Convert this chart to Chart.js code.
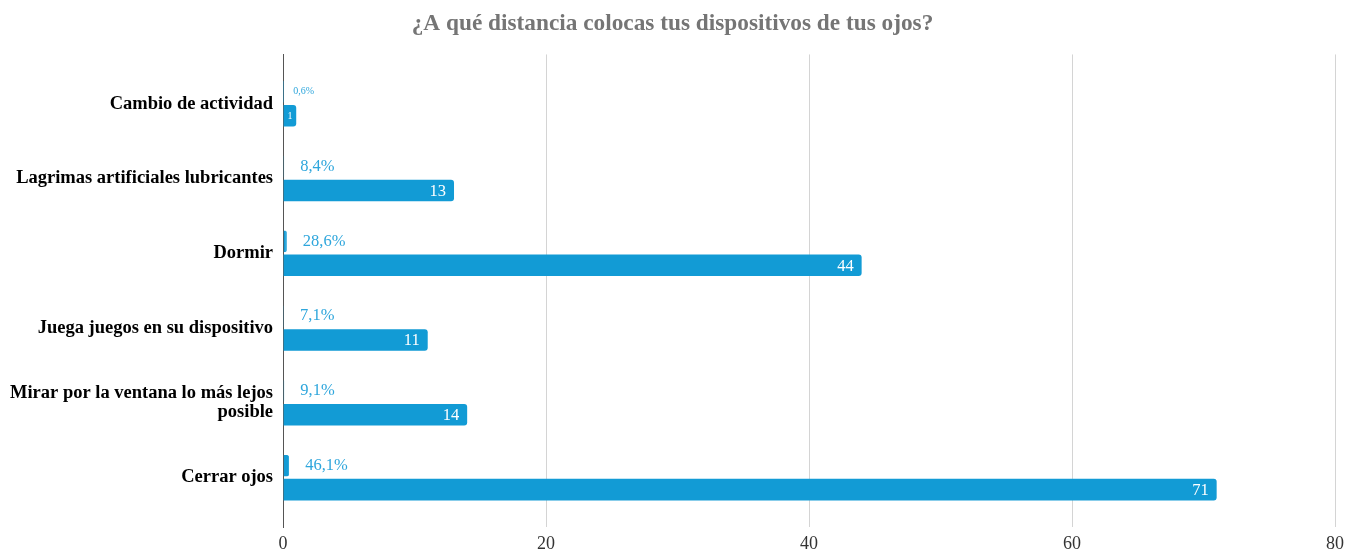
<!DOCTYPE html>
<html>
<head>
<meta charset="utf-8">
<script src="https://cdn.jsdelivr.net/npm/chart.js@4"></script>
<style>
  body { margin: 0; background: #fff; }
  #wrap { width: 1345px; height: 551px; }
</style>
</head>
<body>
<div id="wrap"><canvas id="distChart"></canvas></div>
<script>
// data
const categories = [
  "Cambio de actividad",
  "Lagrimas artificiales lubricantes",
  "Dormir",
  "Juega juegos en su dispositivo",
  ["Mirar por la ventana lo más lejos", "posible"],
  "Cerrar ojos"
];
const percentValues = [0.6, 8.4, 28.6, 7.1, 9.1, 46.1];
const countValues = [1, 13, 44, 11, 14, 71];
const xTicks = [0, 20, 40, 60, 80];

const barBlue = "#129bd5";
const labelBlue = "#2ea6dc";
const serif = "'Liberation Serif', 'Times New Roman', serif";

// value labels: percentages beside the thin bars, counts inside the thick bars
const barLabels = {
  id: "barLabels",
  afterDatasetsDraw(chart) {
    const ctx = chart.ctx;
    ctx.save();
    ctx.textBaseline = "middle";
    chart.getDatasetMeta(0).data.forEach((bar, i) => {
      const small = percentValues[i] < 1;
      ctx.font = (small ? "10px " : "16.5px ") + serif;
      ctx.fillStyle = labelBlue;
      ctx.textAlign = "left";
      const txt = percentValues[i].toFixed(1).replace(".", ",") + "%";
      ctx.fillText(txt, bar.x + (small ? 10 : 16), bar.y);
    });
    chart.getDatasetMeta(1).data.forEach((bar, i) => {
      const small = countValues[i] < 2;
      ctx.font = (small ? "10px " : "16.5px ") + serif;
      ctx.fillStyle = "#fff";
      if (small) {
        ctx.textAlign = "center";
        ctx.fillText(String(countValues[i]), (bar.x + bar.base) / 2, bar.y + 1);
      } else {
        ctx.textAlign = "right";
        ctx.fillText(String(countValues[i]), bar.x - 8, bar.y + 1);
      }
    });
    ctx.restore();
  }
};

new Chart(document.getElementById("distChart"), {
  type: "bar",
  data: {
    labels: categories,
    datasets: [
      {
        label: "Porcentaje",
        data: percentValues.map(v => v / 100),
        backgroundColor: barBlue,
        borderColor: barBlue,
        borderWidth: { right: 1 },
        borderRadius: 2,
        borderSkipped: "start",
        barPercentage: 0.9,
        categoryPercentage: 0.64
      },
      {
        label: "Respuestas",
        data: countValues,
        backgroundColor: barBlue,
        borderRadius: 3,
        borderSkipped: "start",
        barPercentage: 0.9,
        categoryPercentage: 0.64
      }
    ]
  },
  options: {
    indexAxis: "y",
    responsive: true,
    maintainAspectRatio: false,
    animation: false,
    layout: { padding: { left: 0, right: 0, bottom: -10 } },
    plugins: {
      legend: { display: false },
      tooltip: { enabled: false },
      title: {
        display: true,
        text: "¿A qué distancia colocas tus dispositivos de tus ojos?",
        color: "#757575",
        font: { family: serif, size: 23.3, weight: "bold" },
        padding: { top: 10, bottom: 16.5 }
      }
    },
    scales: {
      x: {
        min: 0,
        max: 80,
        afterBuildTicks: s => { s.ticks = xTicks.map(v => ({ value: v })); },
        // let the "80" label run close to the right edge
        afterFit: s => { s.paddingRight = 10; },
        ticks: {
          color: "#333",
          padding: 8,
          font: { family: serif, size: 18, lineHeight: 1 }
        },
        grid: { color: "#d4d4d4", lineWidth: 1, drawTicks: false },
        border: { display: false }
      },
      y: {
        // a little extra room above and below the first/last category
        afterBuildTicks: s => { s._startValue -= 0.16; s._valueRange += 0.32; },
        ticks: {
          color: "#000",
          padding: 10,
          font: { family: serif, size: 18.5, weight: "bold", lineHeight: 1 }
        },
        grid: { display: false, drawTicks: false },
        border: { display: true, color: "#555", width: 1 }
      }
    }
  },
  plugins: [barLabels]
});
</script>
</body>
</html>
